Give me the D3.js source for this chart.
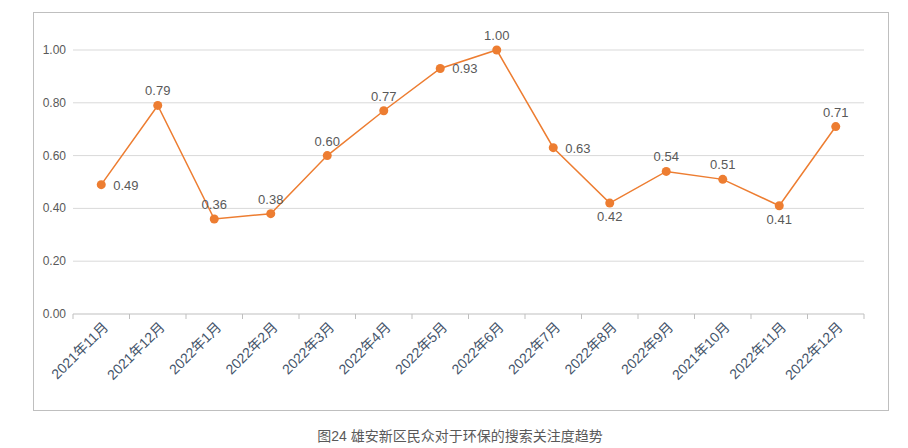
<!DOCTYPE html>
<html><head><meta charset="utf-8">
<script src="https://cdn.jsdelivr.net/npm/d3@7"></script>
<style>body{margin:0;background:#fff;font-family:"Liberation Sans","Noto Sans CJK SC",sans-serif;}</style>
</head><body><svg id="chart" width="908" height="448"></svg>
<script>
let months = ["2021年11月","2021年12月","2022年1月","2022年2月","2022年3月","2022年4月","2022年5月","2022年6月","2022年7月","2022年8月","2022年9月","2021年10月","2022年11月","2022年12月"];
let values = [0.49, 0.79, 0.36, 0.38, 0.60, 0.77, 0.93, 1.00, 0.63, 0.42, 0.54, 0.51, 0.41, 0.71];
let yTicks = [0, 0.2, 0.4, 0.6, 0.8, 1.0];
// label placement: a = above, r = right, b = below
let labelSide = ["r","a","a","a","a","a","r","a","r","b","a","a","b","a"];

let svg = d3.select("#chart");
let plotLeft = 73, plotRight = 864, plotTop = 50, plotBottom = 314;

svg.append("rect").attr("x", 33.5).attr("y", 12.5).attr("width", 855).attr("height", 398)
    .attr("fill", "none").attr("stroke", "#bfbfbf");

let x = d3.scaleBand().domain(months).range([plotLeft, plotRight]);
let y = d3.scaleLinear().domain([0, 1]).range([plotBottom, plotTop]);

// grid
svg.selectAll(".grid").data(yTicks.slice(1)).enter().append("line")
    .attr("x1", plotLeft).attr("x2", plotRight)
    .attr("y1", d => y(d)).attr("y2", d => y(d))
    .attr("stroke", "#d9d9d9");

svg.selectAll(".ytick").data(yTicks).enter().append("text")
    .attr("x", 66).attr("y", d => y(d) + 4)
    .attr("text-anchor", "end").attr("font-size", 12).attr("fill", "#595959")
    .text(d => d.toFixed(2));

// x axis
svg.append("line").attr("x1", plotLeft).attr("x2", plotRight).attr("y1", plotBottom).attr("y2", plotBottom).attr("stroke", "#bfbfbf");
svg.selectAll(".xtick").data(months.concat(["end"])).enter().append("line")
    .attr("x1", (d, i) => plotLeft + i * x.bandwidth()).attr("x2", (d, i) => plotLeft + i * x.bandwidth())
    .attr("y1", plotBottom).attr("y2", plotBottom + 5).attr("stroke", "#bfbfbf");

svg.selectAll(".xlab").data(months).enter().append("text")
    .attr("transform", d => `translate(${x(d) + x.bandwidth() / 2 + 8},${plotBottom + 14}) rotate(-45)`)
    .attr("text-anchor", "end").attr("font-size", 14).attr("fill", "#44546a")
    .text(d => d);

let cx = (d, i) => x(months[i]) + x.bandwidth() / 2;

svg.append("path").datum(values)
    .attr("d", d3.line().x(cx).y(d => y(d)))
    .attr("fill", "none").attr("stroke", "#ed7d31").attr("stroke-width", 1.5);

svg.selectAll(".pt").data(values).enter().append("circle")
    .attr("cx", cx).attr("cy", d => y(d)).attr("r", 4.5).attr("fill", "#ed7d31");

svg.selectAll(".vlab").data(values).enter().append("text")
    .attr("x", (d, i) => cx(d, i) + (labelSide[i] === "r" ? 12 : 0))
    .attr("y", (d, i) => y(d) + (labelSide[i] === "a" ? -10 : labelSide[i] === "b" ? 18 : 5))
    .attr("text-anchor", (d, i) => labelSide[i] === "r" ? "start" : "middle")
    .attr("font-size", 13).attr("fill", "#595959")
    .text(d => d.toFixed(2));

svg.append("text").attr("x", 460).attr("y", 441).attr("text-anchor", "middle")
    .attr("font-size", 14).attr("fill", "#595959")
    .text("图24 雄安新区民众对于环保的搜索关注度趋势");
</script></body></html>
